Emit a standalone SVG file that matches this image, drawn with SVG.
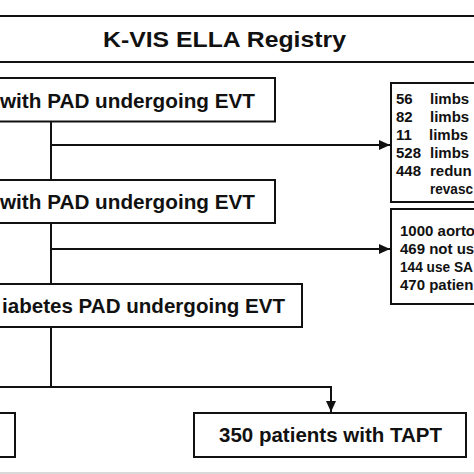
<svg xmlns="http://www.w3.org/2000/svg" width="474" height="474" viewBox="0 0 474 474">
<style>
.box{fill:#fff;stroke:#111;stroke-width:2}
.ln{fill:none;stroke:#111;stroke-width:2}
.t{font-family:"Liberation Sans",Arial,sans-serif;font-weight:bold;fill:#111}
.big{font-size:21px}
.sm{font-size:15px}
</style>
<defs>
<marker id="ah" viewBox="0 0 11 10" refX="11" refY="5" markerWidth="11" markerHeight="10" markerUnits="userSpaceOnUse" orient="auto">
<path d="M0,0 L11,5 L0,10 Z" fill="#111"/>
</marker>
</defs>
<rect width="474" height="474" fill="#fff"/>
<rect x="0" y="472" width="474" height="2" fill="#d9d9d9"/>
<g id="title">
<rect class="box" x="-5" y="16" width="484" height="46"/>
<text class="t" x="103" y="47" font-size="22" textLength="243" lengthAdjust="spacingAndGlyphs">K-VIS ELLA Registry</text>
</g>
<g id="connectors">
<line class="ln" x1="51" y1="121" x2="51" y2="180"/>
<line class="ln" x1="51" y1="145" x2="390" y2="145" marker-end="url(#ah)"/>
<line class="ln" x1="51" y1="223" x2="51" y2="284"/>
<line class="ln" x1="51" y1="249" x2="390" y2="249" marker-end="url(#ah)"/>
<line class="ln" x1="51" y1="327" x2="51" y2="387"/>
<polyline class="ln" points="-5,387 331,387 331,412" marker-end="url(#ah)"/>
</g>
<g id="n1">
<rect class="box" x="-5" y="78" width="280" height="43.5"/>
<text class="t big" x="255" y="108" text-anchor="end" textLength="255" lengthAdjust="spacingAndGlyphs">with PAD undergoing EVT</text>
</g>
<g id="n2">
<rect class="box" x="-5" y="180" width="280" height="43"/>
<text class="t big" x="255" y="209" text-anchor="end" textLength="255" lengthAdjust="spacingAndGlyphs">with PAD undergoing EVT</text>
</g>
<g id="n3">
<rect class="box" x="-5" y="284" width="307" height="43"/>
<text class="t big" x="285" y="312.5" text-anchor="end" textLength="283" lengthAdjust="spacingAndGlyphs">iabetes PAD undergoing EVT</text>
</g>
<g id="n4">
<rect class="box" x="-5" y="413" width="20" height="44"/>
</g>
<g id="n5">
<rect class="box" x="194" y="413" width="272" height="44"/>
<text class="t" x="330.5" y="442" font-size="20.5" text-anchor="middle">350 patients with TAPT</text>
</g>
<g id="r1">
<rect class="box" x="391" y="83" width="90" height="119"/>
<text class="t sm"><tspan x="396" y="103.5">56</tspan><tspan x="430" y="103.5">limbs</tspan></text>
<text class="t sm"><tspan x="396" y="121.5">82</tspan><tspan x="430" y="121.5">limbs</tspan></text>
<text class="t sm"><tspan x="396" y="139.5">11</tspan><tspan x="429" y="139.5">limbs</tspan></text>
<text class="t sm"><tspan x="396" y="157.5">528</tspan><tspan x="430" y="157.5">limbs</tspan></text>
<text class="t sm"><tspan x="396" y="175.5">448</tspan><tspan x="430" y="175.5">redun</tspan></text>
<text class="t sm" x="430" y="193.5" textLength="43" lengthAdjust="spacingAndGlyphs">revasc</text>
</g>
<g id="r2">
<rect class="box" x="391" y="209" width="90" height="95"/>
<text class="t sm" x="400" y="236">1000 aorto</text>
<text class="t sm" x="400" y="254">469 not us</text>
<text class="t sm" x="400" y="272" textLength="73" lengthAdjust="spacingAndGlyphs">144 use SA</text>
<text class="t sm" x="400" y="290">470 patien</text>
</g>
</svg>
